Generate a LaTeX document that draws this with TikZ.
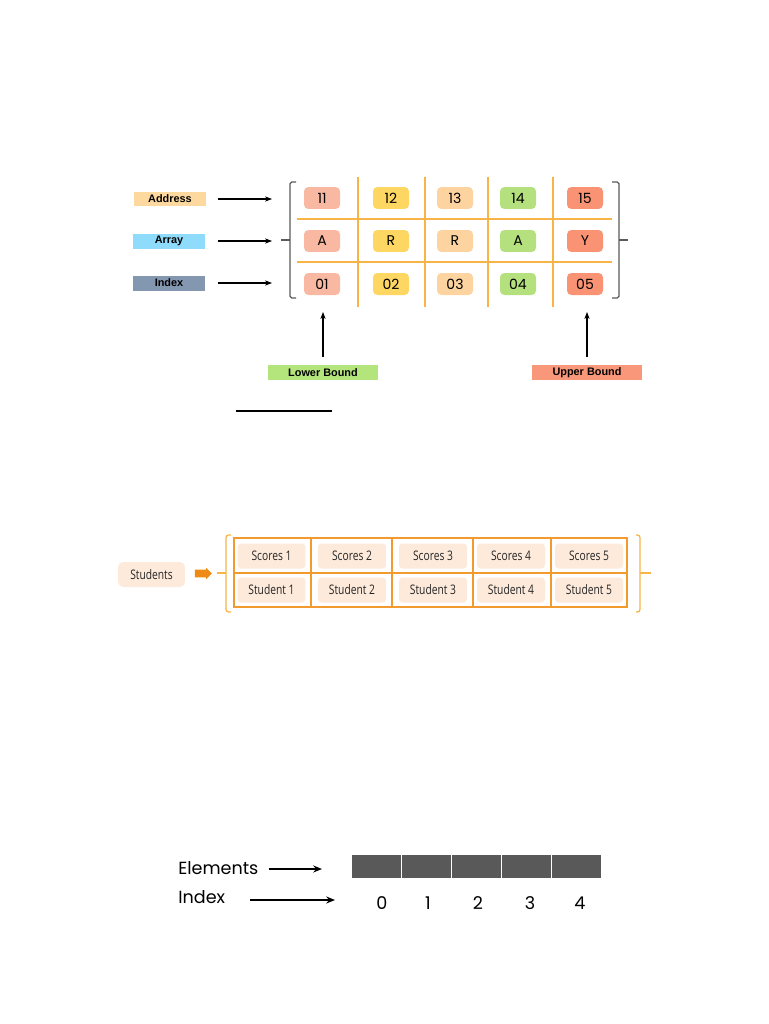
\documentclass[tikz,border=0pt]{standalone}
\usepackage{fontspec}
\setmainfont{Poppins}
\newfontfamily\tagfont{Liberation Sans}
\newfontfamily\narrowfont[FakeStretch=0.78]{Open Sans}
\usetikzlibrary{positioning,arrows.meta,shapes.arrows}
\definecolor{CellSalmon}{HTML}{F9B8A2}
\definecolor{CellYellow}{HTML}{FDD762}
\definecolor{CellPeach}{HTML}{FDD4A0}
\definecolor{CellGreen}{HTML}{B4E07D}
\definecolor{CellCoral}{HTML}{FA9374}
\definecolor{TagAddress}{HTML}{FDD9A0}
\definecolor{TagArray}{HTML}{8FDBFB}
\definecolor{TagIndex}{HTML}{8497B0}
\definecolor{TagLower}{HTML}{B4E47C}
\definecolor{TagUpper}{HTML}{F9977A}
\definecolor{GridOrange}{HTML}{F9B448}
\definecolor{TableOrange}{HTML}{F29A2E}
\definecolor{SlotFill}{HTML}{FDEADB}
\definecolor{PointerOrange}{HTML}{EE8A16}
\definecolor{BlockGray}{HTML}{595959}
\definecolor{BracketGray}{HTML}{5A5A5A}

\begin{document}
\begin{tikzpicture}[x=0.02cm, y=-0.02cm,
        tag/.style={rectangle, minimum width=1.44cm, minimum height=0.3cm, inner sep=0pt, font=\tagfont\bfseries\fontsize{6.2}{7}\selectfont},
        bound/.style={tag, minimum width=2.2cm},
        cell/.style={rectangle, rounded corners=2.5pt, minimum width=0.72cm, minimum height=0.44cm, inner sep=0pt, font=\fontsize{8}{9}\selectfont},
        slot/.style={rectangle, rounded corners=2pt, fill=SlotFill, minimum width=1.36cm, minimum height=0.5cm, inner sep=0pt, text=black!85, font=\narrowfont\fontsize{7.5}{9}\selectfont},
        block/.style={rectangle, fill=BlockGray, draw=white, line width=0.8pt, minimum width=1cm, minimum height=0.5cm},
        digit/.style={inner sep=0pt, font=\fontsize{10}{12}\selectfont},
        word/.style={inner sep=0pt, anchor=west, font=\fontsize{10}{12}\selectfont},
        arrow/.style={draw=black, -{Stealth[length=4pt, width=3pt]}, line width=0.6pt},
        bigarrow/.style={draw=black, -{Stealth[length=5pt, width=4pt]}, line width=1pt},
        gridline/.style={draw=GridOrange, line width=0.6pt},
        bracket/.style={draw=BracketGray, line width=0.7pt, rounded corners=1pt},
        obracket/.style={draw=GridOrange, line width=0.7pt, rounded corners=1.5pt}
    ]
        \fill [white] (0,0) rectangle (768,1024);
        \useasboundingbox (0,0) rectangle (768,1024);

        \node [tag, fill=TagAddress] (address) at (170,199) {Address};
        \node [tag, fill=TagArray] (array) at (169,241) {Array};
        \node [tag, fill=TagIndex] (index) at (169,283) {Index};
        \coordinate (addressTip) at (272,199);
        \coordinate (arrayTip) at (272,241);
        \coordinate (indexTip) at (272,283);
        \draw [arrow, shorten <=0.24cm] (address) -- (addressTip);
        \draw [arrow, shorten <=0.26cm] (array) -- (arrayTip);
        \draw [arrow, shorten <=0.26cm] (index) -- (indexTip);

        \draw [gridline] (358,177) -- (358,307);
        \draw [gridline] (425,177) -- (425,307);
        \draw [gridline] (488,177) -- (488,307);
        \draw [gridline] (553,177) -- (553,307);
        \draw [gridline] (297,219) -- (612,219);
        \draw [gridline] (297,262) -- (612,262);
        \draw [bracket] (296,182) -- (290,182) -- (290,298) -- (296,298);
        \draw [bracket] (290,240) -- (281,240);
        \draw [bracket] (612,182) -- (619,182) -- (619,298) -- (612,298);
        \draw [bracket] (619,240) -- (628,240);

        \node [cell, fill=CellSalmon] (addr1) at (322,198) {11};
        \node [cell, fill=CellYellow] (addr2) at (391,198) {12};
        \node [cell, fill=CellPeach] (addr3) at (455,198) {13};
        \node [cell, fill=CellGreen] (addr4) at (518,198) {14};
        \node [cell, fill=CellCoral] (addr5) at (585,198) {15};
        \node [cell, fill=CellSalmon] (elem1) at (322,241) {A};
        \node [cell, fill=CellYellow] (elem2) at (391,241) {R};
        \node [cell, fill=CellPeach] (elem3) at (455,241) {R};
        \node [cell, fill=CellGreen] (elem4) at (518,241) {A};
        \node [cell, fill=CellCoral] (elem5) at (585,241) {Y};
        \node [cell, fill=CellSalmon] (idx1) at (322,284) {01};
        \node [cell, fill=CellYellow] (idx2) at (391,284) {02};
        \node [cell, fill=CellPeach] (idx3) at (455,284) {03};
        \node [cell, fill=CellGreen] (idx4) at (518,284) {04};
        \node [cell, fill=CellCoral] (idx5) at (585,284) {05};

        \node [bound, fill=TagLower] (lower) at (323,372.5) {Lower Bound};
        \node [bound, fill=TagUpper] (upper) at (587,372.5) {Upper Bound};
        \coordinate (lowerTip) at (323,312);
        \coordinate (upperTip) at (587,312);
        \draw [arrow, shorten <=0.16cm] (lower) -- (lowerTip);
        \draw [arrow, shorten <=0.16cm] (upper) -- (upperTip);

        \draw [black, line width=0.6pt] (236,411) -- (332,411);

        \node [slot, minimum width=1.34cm, rounded corners=3pt] (students) at (151.5,574.5) {Students};
        \node [single arrow, fill=PointerOrange, minimum height=0.34cm, minimum width=0.23cm, inner sep=0.07cm, single arrow head extend=0.04cm, single arrow head indent=0pt] (pointer) at (201.5,573.5) {};

        \draw [draw=TableOrange, line width=0.8pt] (234,538) rectangle (627,607);
        \draw [draw=TableOrange, line width=0.8pt] (234,573) -- (627,573);
        \draw [draw=TableOrange, line width=0.6pt] (311,538) -- (311,607);
        \draw [draw=TableOrange, line width=0.6pt] (392,538) -- (392,607);
        \draw [draw=TableOrange, line width=0.6pt] (473,538) -- (473,607);
        \draw [draw=TableOrange, line width=0.6pt] (551,538) -- (551,607);
        \draw [obracket] (231,535) -- (226,535) -- (226,612) -- (231,612);
        \draw [obracket] (226,573) -- (217,573);
        \draw [obracket] (636,535) -- (640,535) -- (640,612) -- (636,612);
        \draw [obracket] (640,573) -- (651,573);

        \node [slot] (score1) at (271.5,556) {Scores 1};
        \node [slot] (score2) at (352,556) {Scores 2};
        \node [slot] (score3) at (433,556) {Scores 3};
        \node [slot] (score4) at (511,556) {Scores 4};
        \node [slot] (score5) at (589,556) {Scores 5};
        \node [slot] (student1) at (271.5,590) {Student 1};
        \node [slot] (student2) at (352,590) {Student 2};
        \node [slot] (student3) at (433,590) {Student 3};
        \node [slot] (student4) at (511,590) {Student 4};
        \node [slot] (student5) at (589,590) {Student 5};

        \node [word] (elements) at (178,868) {Elements};
        \node [word] (indices) at (178,897) {Index};
        \coordinate (elementsTip) at (322,869);
        \coordinate (indicesTip) at (335,900);
        \draw [bigarrow, shorten <=0.2cm] (elements.east |- elementsTip) -- (elementsTip);
        \draw [bigarrow, shorten <=0.5cm] (indices.east |- indicesTip) -- (indicesTip);

        \node [block] (box0) at (376.5,866.5) {};
        \node [block] (box1) at (426.5,866.5) {};
        \node [block] (box2) at (476.5,866.5) {};
        \node [block] (box3) at (526.5,866.5) {};
        \node [block] (box4) at (576.5,866.5) {};
        \node [digit] (pos0) at (382,903) {0};
        \node [digit] (pos1) at (428,903) {1};
        \node [digit] (pos2) at (478,903) {2};
        \node [digit] (pos3) at (530,903) {3};
        \node [digit] (pos4) at (580,903) {4};
    \end{tikzpicture}
\end{document}
